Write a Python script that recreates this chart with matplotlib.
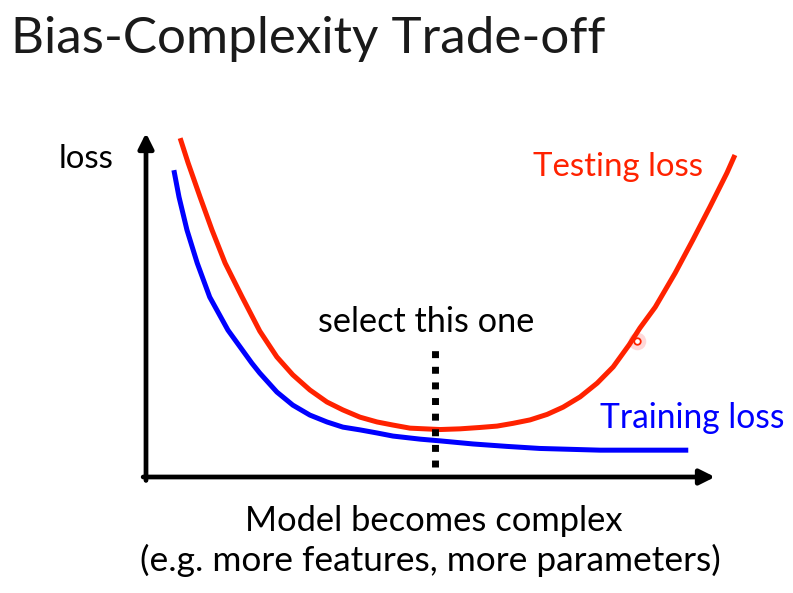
import matplotlib
matplotlib.use("Agg")
import matplotlib.pyplot as plt

# curve samples (x = model complexity, y = loss, both 0..10)
test_x = [0.60, 0.74, 0.95, 1.16, 1.39, 1.69, 2.00, 2.30, 2.58, 2.88,
          3.18, 3.46, 3.76, 4.06, 4.34, 4.64, 4.90, 5.17, 5.52, 5.87,
          6.17, 6.45, 6.75, 7.05, 7.33, 7.63, 7.93, 8.21, 8.49, 8.68,
          8.95, 9.30, 9.61, 9.91, 10.21, 10.35]
test_y = [9.85, 9.13, 8.14, 7.18, 6.22, 5.23, 4.24, 3.49, 2.97, 2.53,
          2.18, 1.95, 1.74, 1.60, 1.51, 1.42, 1.40, 1.38, 1.40, 1.44,
          1.48, 1.56, 1.66, 1.82, 2.03, 2.33, 2.73, 3.20, 3.84, 4.33,
          4.94, 5.93, 6.89, 7.85, 8.84, 9.36]

train_x = [0.49, 0.58, 0.72, 0.90, 1.12, 1.44, 1.86, 2.00, 2.30, 2.58,
           2.88, 3.18, 3.46, 3.76, 4.06, 4.34, 4.82, 5.17, 5.75, 6.34,
           6.92, 7.98, 9.53]
train_y = [8.92, 8.14, 7.18, 6.22, 5.23, 4.27, 3.31, 3.02, 2.47, 2.09,
           1.80, 1.60, 1.45, 1.37, 1.28, 1.19, 1.10, 1.05, 0.96, 0.89,
           0.83, 0.78, 0.78]

select_x = 5.08
select_y = [0.29, 3.75]

pointer_xy = (8.63, 3.95)

W, H = 793, 593
RED = "#ff2200"
BLUE = "#0000ff"
FONT = "Lato"

fig = plt.figure(figsize=(W / 100, H / 100), dpi=100)
fig.patch.set_facecolor("white")

# axes placed so that its corner sits where the arrows meet on the slide
ax = fig.add_axes([146 / W, (H - 477) / H, (715 - 146) / W, (477 - 133) / H])
ax.set_xlim(0, 10)
ax.set_ylim(0, 10)
ax.axis("off")

# the two arrows
arrow = dict(arrowstyle="-|>,head_length=0.9,head_width=0.45", lw=3.4, color="black",
             shrinkA=0, shrinkB=0)
ax.annotate("", xy=(1, 0), xytext=(-0.005, 0), xycoords="axes fraction", arrowprops=arrow)
ax.annotate("", xy=(0, 1), xytext=(0, -0.01), xycoords="axes fraction", arrowprops=arrow)

ax.plot(test_x, test_y, color=RED, lw=3.6, solid_capstyle="butt",
        solid_joinstyle="round", clip_on=False)
ax.plot(train_x, train_y, color=BLUE, lw=3.6, solid_capstyle="butt",
        solid_joinstyle="round", clip_on=False)

ax.plot([select_x, select_x], select_y, color="black", lw=5,
        linestyle=(0, (1, 1.25)), dash_capstyle="butt", clip_on=False)

# laser pointer dot
ax.scatter(*pointer_xy, s=160, color="#ff9090", alpha=0.35, lw=0, clip_on=False)
ax.scatter(*pointer_xy, s=22, facecolor="white", edgecolor=RED, lw=1.3, clip_on=False)

fig.canvas.draw()
renderer = fig.canvas.get_renderer()


def put(txt, left, right, base, color="black", size=20):
    # place text by its pixel left edge and baseline, then fit size to target width
    t = fig.text(left / W, 1 - base / H, txt, ha="left", va="baseline",
                 color=color, fontsize=size, family=FONT)
    w = t.get_window_extent(renderer).width
    t.set_fontsize(size * (right - left) / w)
    return t


put("Bias-Complexity Trade-off", 11, 605, 53, color="#1a1a1a", size=40)
put("loss", 59, 114, 168)
put("Testing loss", 533, 703, 176, color=RED)
put("Training loss", 600, 785, 428, color=BLUE)
put("select this one", 318, 535, 332)
put("Model becomes complex", 245, 623, 531)
put("(e.g. more features, more parameters)", 140, 722, 571)

fig.savefig("out.png", dpi=100, facecolor="white")
